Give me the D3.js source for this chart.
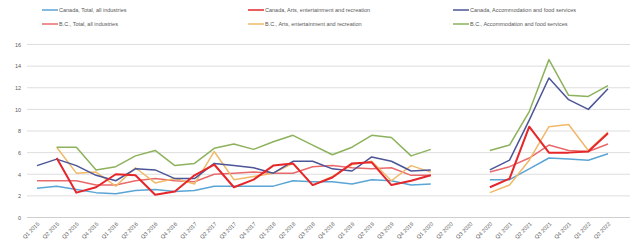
<!DOCTYPE html>
<html><head><meta charset="utf-8">
<script src="https://cdn.jsdelivr.net/npm/d3@7"></script>
<style>body{margin:0;background:#fff}svg{display:block}text{font-family:"Liberation Sans",Arial,sans-serif;fill:#595959}</style>
</head><body><svg id="c" width="633" height="249"></svg>
<script>
const categories = ["Q1 2015","Q2 2015","Q3 2015","Q4 2015","Q1 2016","Q2 2016","Q3 2016","Q4 2016","Q1 2017","Q2 2017","Q3 2017","Q4 2017","Q1 2018","Q2 2018","Q3 2018","Q4 2018","Q1 2019","Q2 2019","Q3 2019","Q4 2019","Q1 2020","Q2 2020","Q3 2020","Q4 2020","Q1 2021","Q2 2021","Q3 2021","Q4 2021","Q1 2022","Q2 2022"];
const canadaTotal = [2.7,2.9,2.6,2.3,2.2,2.5,2.6,2.4,2.5,2.9,2.9,2.9,2.9,3.4,3.3,3.3,3.1,3.5,3.4,3.0,3.1,null,null,3.5,3.5,4.5,5.5,5.4,5.3,5.9];
const canadaArts = [null,5.5,2.3,2.8,4.0,3.9,2.1,2.4,3.9,4.9,2.8,3.5,4.8,5.0,3.0,3.7,5.0,5.1,3.0,3.4,3.9,null,null,2.8,3.6,8.4,6.0,6.0,6.1,7.8];
const canadaAccom = [4.8,5.4,4.8,3.9,3.4,4.5,4.4,3.6,3.6,5.0,4.8,4.6,4.1,5.2,5.2,4.5,4.3,5.6,5.2,4.3,4.4,null,null,4.4,5.3,9.0,12.9,10.9,10.0,11.9];
const bcTotal = [3.4,3.4,3.4,3.0,3.0,3.4,3.6,3.4,3.3,4.0,4.1,4.2,4.1,4.1,4.7,4.8,4.6,4.5,4.6,3.9,3.9,null,null,4.2,4.7,5.5,6.7,6.2,6.1,6.8];
const bcArts = [null,6.5,4.1,4.2,2.9,4.6,3.2,3.6,3.1,6.1,3.5,3.8,4.1,5.0,3.0,3.8,4.9,5.2,3.4,4.8,4.2,null,null,2.3,3.0,5.3,8.4,8.6,6.2,7.9];
const bcAccom = [null,6.5,6.5,4.4,4.7,5.7,6.2,4.8,5.0,6.4,6.8,6.3,7.0,7.6,6.7,5.8,6.5,7.6,7.4,5.7,6.3,null,null,6.2,6.7,9.8,14.6,11.3,11.2,12.2];
const yTicks = [0,2,4,6,8,10,12,14,16];
const seriesNames = ["Canada, Total, all industries","Canada, Arts, entertainment and recreation","Canada, Accommodation and food services","B.C., Total, all industries","B.C., Arts, entertainment and recreation","B.C., Accommodation and food services"];

const series = [
  {name:seriesNames[0], values:canadaTotal, color:"#5aa5d6", w:1.5, col:0,row:0},
  {name:seriesNames[1], values:canadaArts, color:"#e5262b", w:2, col:1,row:0},
  {name:seriesNames[2], values:canadaAccom, color:"#4b5597", w:1.5, col:2,row:0},
  {name:seriesNames[3], values:bcTotal, color:"#e86a6c", w:1.5, col:0,row:1},
  {name:seriesNames[4], values:bcArts, color:"#f0b968", w:1.5, col:1,row:1},
  {name:seriesNames[5], values:bcAccom, color:"#8db25c", w:1.5, col:2,row:1}
];

const svg = d3.select("#c");
const x = d3.scalePoint().domain(categories).range([37,608]);
const y = d3.scaleLinear().domain([0,16]).range([217.5,44.5]);
const gridX0 = 27, gridX1 = 630;

// gridlines
svg.append("g").selectAll("line").data(yTicks).join("line")
  .attr("x1",gridX0).attr("x2",gridX1)
  .attr("y1",d=>y(d)).attr("y2",d=>y(d))
  .attr("stroke",d=>d===0?"#cfcfcf":"#dedede").attr("stroke-width",1);

// y axis labels
const yAxis = d3.axisLeft(y).tickValues(yTicks).tickSize(0).tickPadding(0);
const gy = svg.append("g").attr("transform","translate(21,0)").call(yAxis);
gy.select(".domain").remove();
gy.selectAll("text").style("font-size","5.5px").attr("fill","#595959").attr("font-family","Liberation Sans, Arial, sans-serif");

// x axis labels
const xAxis = d3.axisBottom(x).tickSize(0).tickPadding(0);
const gx = svg.append("g").attr("transform","translate(0,221)").call(xAxis);
gx.select(".domain").remove();
gx.selectAll("text").style("font-size","5.5px").attr("fill","#595959")
  .attr("font-family","Liberation Sans, Arial, sans-serif")
  .attr("text-anchor","end").attr("dy","0.35em").attr("y",0)
  .attr("transform","translate(1,2) rotate(-45)");

// lines
const line = d3.line().defined(d=>d.v!==null).x(d=>x(d.c)).y(d=>y(d.v));
const drawOrder = [0,3,4,2,1,5];
drawOrder.forEach(i=>{
  const s = series[i];
  svg.append("path")
    .datum(categories.map((c,k)=>({c, v:s.values[k]})))
    .attr("d",line).attr("fill","none")
    .attr("stroke",s.color).attr("stroke-width",s.w)
    .attr("stroke-linejoin","round");
});

// legend
const colX = [42,248,453];
const rowY = [10,24];
const lg = svg.append("g");
series.forEach(s=>{
  const lx = colX[s.col], ly = rowY[s.row];
  lg.append("line").attr("x1",lx).attr("x2",lx+16).attr("y1",ly).attr("y2",ly)
    .attr("stroke",s.color).attr("stroke-width",1.5);
  lg.append("text").attr("x",lx+17).attr("y",ly).attr("dy","0.35em")
    .style("font-size","5.5px").text(s.name);
});
</script></body></html>
